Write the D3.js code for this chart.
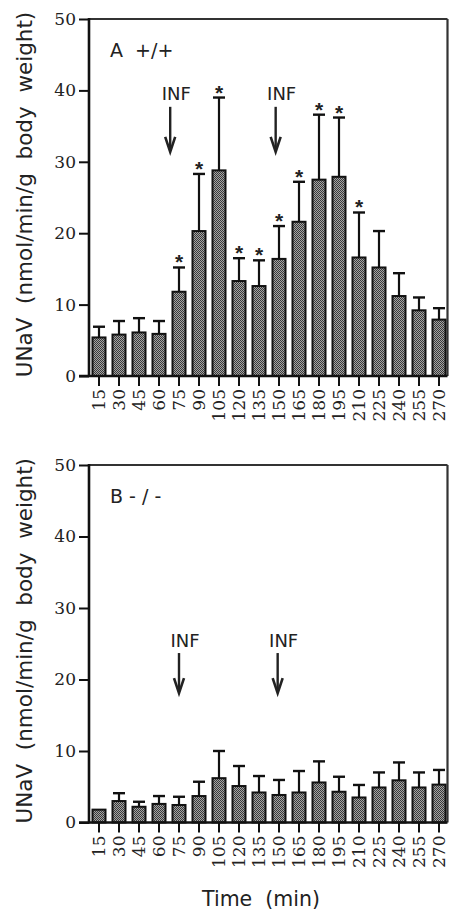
<!DOCTYPE html>
<html><head><meta charset="utf-8">
<script src="https://cdn.jsdelivr.net/npm/d3@7"></script>
<style>body{margin:0;background:#fff}</style>
</head><body><svg id="c" width="450" height="913" xmlns="http://www.w3.org/2000/svg"></svg>
<script>
// ---- data ----
const times = [15,30,45,60,75,90,105,120,135,150,165,180,195,210,225,240,255,270];
const yTicks = [0,10,20,30,40,50];
// Panel A (+/+)
const meanA = [5.4,5.8,6.1,5.9,11.8,20.3,28.8,13.3,12.6,16.4,21.6,27.5,27.9,16.6,15.2,11.2,9.2,7.9];
const semA  = [1.5,1.9,2.0,1.8,3.4,8.0,10.2,3.2,3.6,4.6,5.6,9.1,8.3,6.3,5.1,3.2,1.8,1.6];
const sigA  = [75,90,105,120,135,150,165,180,195,210];
const infA  = [68.4,147.5];
// Panel B (-/-)
const meanB = [1.8,3.0,2.2,2.6,2.45,3.7,6.2,5.1,4.2,3.85,4.2,5.6,4.3,3.5,4.9,5.9,4.9,5.3];
const semB  = [0,1.1,0.7,1.1,1.15,2.0,3.8,2.8,2.3,2.1,3.0,2.95,2.1,1.75,2.1,2.5,2.1,2.05];
const sigB  = [];
const infB  = [75,149];
// INF annotation levels (data units): text baseline, arrow start, arrow tip
const infLevelsA = [38.6,37.7,31.4];
const infLevelsB = [24.6,23.7,18.1];
const panelLabels = ["A  +/+", "B - / -"];
const yTitle = "UNaV  (nmol/min/g  body  weight)";
const xTitle = "Time  (min)";

// ---- drawing ----
const svg = d3.select('#c');
svg.append('rect').attr('width',450).attr('height',913).attr('fill','#fff');
const defs = svg.append('defs');
const pat = defs.append('pattern').attr('id','stip').attr('width',2).attr('height',2)
  .attr('patternUnits','userSpaceOnUse');
pat.append('rect').attr('width',2).attr('height',2).attr('fill','#a4a4a4');
pat.append('rect').attr('width',1).attr('height',1).attr('fill','#3a3a3a');
pat.append('rect').attr('x',1).attr('y',1).attr('width',1).attr('height',1).attr('fill','#3a3a3a');

const left = 89, right = 447.5;
const x = d3.scaleBand().domain(times).range([89,449]).paddingInner(0.35).paddingOuter(0.175);
const bw = x.bandwidth();
const xt = d3.scaleLinear().domain([15,270]).range([x(15)+bw/2, x(270)+bw/2]);

const panels = [
  {top:19, zero:376, mean:meanA, sem:semA, sig:sigA, inf:infA, lev:infLevelsA, label:panelLabels[0]},
  {top:465, zero:822.5, mean:meanB, sem:semB, sig:sigB, inf:infB, lev:infLevelsB, label:panelLabels[1]}
];

panels.forEach(p => {
  const y = d3.scaleLinear().domain([0,50]).range([p.zero, p.top]);
  const g = svg.append('g');
  const data = times.map((t,i)=>({t, v:p.mean[i], s:p.sem[i], sig:p.sig.includes(t)}));

  // box (top/right)
  g.append('line').attr('x1',left).attr('x2',right).attr('y1',p.top).attr('y2',p.top)
    .attr('stroke','#333').attr('stroke-width',2.2);
  g.append('line').attr('x1',right).attr('x2',right).attr('y1',p.top).attr('y2',p.zero)
    .attr('stroke','#333').attr('stroke-width',2.2);

  // error bars
  const eb = g.selectAll('.eb').data(data.filter(d=>d.s>0)).join('g');
  eb.append('line').attr('x1',d=>x(d.t)+bw/2).attr('x2',d=>x(d.t)+bw/2)
    .attr('y1',d=>y(d.v)).attr('y2',d=>y(d.v+d.s)).attr('stroke','#111').attr('stroke-width',2.2);
  eb.append('line').attr('x1',d=>x(d.t)+bw/2-6).attr('x2',d=>x(d.t)+bw/2+6)
    .attr('y1',d=>y(d.v+d.s)).attr('y2',d=>y(d.v+d.s)).attr('stroke','#111').attr('stroke-width',2.4);

  // bars
  g.selectAll('.bar').data(data).join('rect')
    .attr('x',d=>x(d.t)).attr('y',d=>y(d.v)).attr('width',bw).attr('height',d=>y(0)-y(d.v))
    .attr('fill','url(#stip)').attr('stroke','#111').attr('stroke-width',2);

  // stars
  g.selectAll('.star').data(data.filter(d=>d.sig)).join('text')
    .attr('x',d=>x(d.t)+bw/2).attr('y',d=>y(d.v+d.s)+2)
    .attr('text-anchor','middle').attr('font-family','Liberation Sans, Arial, sans-serif')
    .attr('font-size',21).attr('font-weight','bold').attr('fill','#222').text('*');

  // y axis
  const ya = g.append('g').attr('transform',`translate(${left},0)`)
    .call(d3.axisLeft(y).tickValues(yTicks).tickSize(10).tickPadding(3).tickSizeOuter(0));
  ya.select('.domain').remove();
  ya.selectAll('line').attr('stroke','#111').attr('stroke-width',2);
  ya.selectAll('text').attr('font-family','DejaVu Serif, serif').attr('font-size',17).attr('fill','#222');
  g.append('line').attr('x1',left).attr('x2',left).attr('y1',p.top-1).attr('y2',p.zero+1)
    .attr('stroke','#111').attr('stroke-width',2.6);

  // x axis
  const xa = g.append('g').attr('transform',`translate(0,${p.zero})`)
    .call(d3.axisBottom(x).tickSize(10).tickSizeOuter(0));
  xa.select('.domain').remove();
  xa.selectAll('line').attr('stroke','#111').attr('stroke-width',2);
  xa.selectAll('text').attr('transform','rotate(-90)').attr('text-anchor','end')
    .attr('x',-13).attr('y',0).attr('dy','0.36em')
    .attr('font-family','DejaVu Serif, serif').attr('font-size',17).attr('fill','#222');
  g.append('line').attr('x1',left-10).attr('x2',right).attr('y1',p.zero).attr('y2',p.zero)
    .attr('stroke','#111').attr('stroke-width',2.6);

  // INF annotations
  p.inf.forEach(t => {
    const ax = xt(t);
    g.append('text').attr('x',ax+6).attr('y',y(p.lev[0])).attr('text-anchor','middle')
      .attr('font-family','DejaVu Sans, sans-serif').attr('font-size',18).attr('fill','#222').text('INF');
    g.append('line').attr('x1',ax).attr('x2',ax).attr('y1',y(p.lev[1])).attr('y2',y(p.lev[2])-2)
      .attr('stroke','#222').attr('stroke-width',2.4);
    const tip = y(p.lev[2]);
    g.append('path').attr('d',`M${ax-5},${tip-15} L${ax},${tip} L${ax+5},${tip-15}`)
      .attr('fill','none').attr('stroke','#222').attr('stroke-width',2.6);
  });

  // panel label
  g.append('text').attr('x',110).attr('y',p.top+38)
    .attr('font-family','DejaVu Sans, sans-serif').attr('font-size',19).attr('fill','#222')
    .style('white-space','pre').text(p.label);

  // y title
  g.append('text').attr('transform',`translate(32,${(p.top+p.zero)/2-3}) rotate(-90)`)
    .attr('text-anchor','middle').attr('font-family','DejaVu Sans, sans-serif')
    .attr('font-size',21.5).attr('fill','#222').style('white-space','pre').text(yTitle);
});

svg.append('text').attr('x',261).attr('y',906).attr('text-anchor','middle')
  .attr('font-family','DejaVu Sans, sans-serif').attr('font-size',20.5).attr('fill','#222')
  .style('white-space','pre').text(xTitle);
</script>
</body></html>
